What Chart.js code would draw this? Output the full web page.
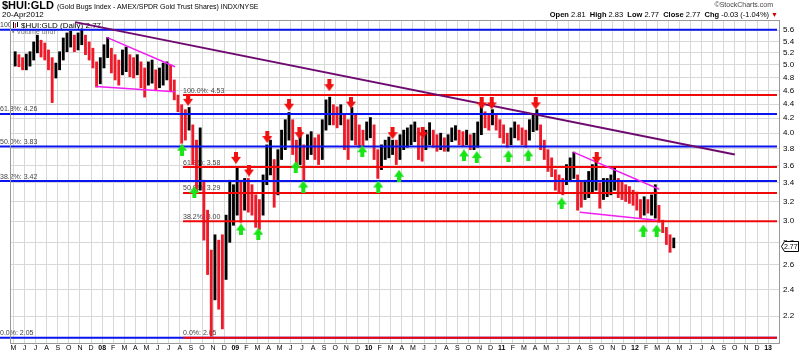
<!DOCTYPE html>
<html>
<head>
<meta charset="utf-8">
<script src="https://cdn.jsdelivr.net/npm/chart.js@4.4.1/dist/chart.umd.min.js"></script>
<style>
body { margin: 0; background: #fff; font-family: "Liberation Sans", Arial, sans-serif; }
#wrap { position: relative; width: 800px; height: 353px; }
#chart { position: absolute; left: 0; top: 0; }
.t { position: absolute; white-space: nowrap; color: #000; }
</style>
</head>
<body>
<div id="wrap">
<canvas id="chart" width="800" height="353"></canvas>
<div class="t" style="left:2px;top:-1px;font-size:11px"><b>$HUI:GLD</b> <span style="font-size:7px">(Gold Bugs Index - AMEX/SPDR Gold Trust Shares) INDX/NYSE</span></div>
<div class="t" style="left:2px;top:10px;font-size:8px">20-Apr2012</div>
<div class="t" style="right:27px;top:1px;font-size:7px;color:#444">©StockCharts.com</div>
<div class="t" style="right:22px;top:10px;font-size:7.5px"><b>Open</b> 2.81 &nbsp;<b>High</b> 2.83 &nbsp;<b>Low</b> 2.77 &nbsp;<b>Close</b> 2.77 &nbsp;<b>Chg</b> -0.03 (-1.04%)<span style="color:#c00;font-size:7px"> ▼</span></div>
</div>
<script>
const monthLabels = ['M', 'J', 'J', 'A', 'S', 'O', 'N', 'D',
    '08', 'F', 'M', 'A', 'M', 'J', 'J', 'A', 'S', 'O', 'N', 'D',
    '09', 'F', 'M', 'A', 'M', 'J', 'J', 'A', 'S', 'O', 'N', 'D',
    '10', 'F', 'M', 'A', 'M', 'J', 'J', 'A', 'S', 'O', 'N', 'D',
    '11', 'F', 'M', 'A', 'M', 'J', 'J', 'A', 'S', 'O', 'N', 'D',
    '12', 'F', 'M', 'A', 'M', 'J', 'J', 'A', 'S', 'O', 'N', 'D', '13'];

const yTicks = [2.2, 2.4, 2.6, 2.8, 3.0, 3.2, 3.4, 3.6, 3.8, 4.0, 4.2, 4.4, 4.6, 4.8, 5.0, 5.2, 5.4, 5.6];

// price ranges, three bars per month starting May 2007
const barLows = [
    4.98, 4.97, 4.92, 4.92, 4.98, 5.08, 5.20, 5.13, 5.08, 4.92,
    4.42, 4.79, 4.92, 5.08, 5.22, 5.30, 5.22, 5.25, 5.34, 5.17,
    5.08, 4.95, 4.65, 4.70, 4.95, 5.12, 4.87, 4.76, 4.68, 4.84,
    4.89, 4.81, 4.79, 4.84, 4.64, 4.50, 4.68, 4.71, 4.61, 4.64,
    4.68, 4.76, 4.58, 4.46, 4.29, 3.87, 3.91, 4.04, 3.61, 3.30,
    3.32, 2.82, 2.52, 2.06, 2.32, 2.25, 2.11, 2.48, 2.80, 2.96,
    3.06, 2.99, 3.11, 3.09, 3.06, 2.94, 2.92, 3.06, 3.38, 3.49,
    3.14, 3.27, 3.67, 3.79, 3.91, 3.73, 3.57, 3.61, 3.43, 3.67,
    3.73, 3.67, 3.61, 3.67, 4.04, 4.11, 4.11, 4.07, 4.11, 3.79,
    3.67, 3.91, 3.85, 3.82, 3.83, 3.91, 3.94, 3.67, 3.45, 3.55,
    3.67, 3.69, 3.73, 3.61, 3.67, 3.79, 3.82, 3.85, 3.89, 3.67,
    3.65, 3.79, 3.85, 3.82, 3.77, 3.79, 3.77, 3.77, 3.89, 3.91,
    3.85, 3.83, 3.85, 3.79, 3.79, 3.82, 3.98, 4.07, 4.04, 4.11,
    4.04, 3.94, 3.87, 3.82, 3.85, 3.94, 3.91, 3.85, 3.82, 3.91,
    4.02, 4.04, 3.79, 3.67, 3.53, 3.47, 3.32, 3.30, 3.27, 3.38,
    3.43, 3.45, 3.11, 3.14, 3.22, 3.24, 3.30, 3.32, 3.13, 3.22,
    3.25, 3.27, 3.32, 3.24, 3.22, 3.20, 3.18, 3.16, 3.11, 3.03,
    3.06, 3.08, 3.06, 3.03, 2.99, 2.89, 2.78, 2.71, 2.75
];
const barHighs = [
    5.22, 5.17, 5.12, 5.18, 5.22, 5.39, 5.51, 5.42, 5.37, 5.25,
    5.12, 5.03, 5.22, 5.46, 5.55, 5.58, 5.51, 5.55, 5.62, 5.51,
    5.39, 5.28, 5.05, 5.12, 5.34, 5.47, 5.28, 5.17, 5.08, 5.25,
    5.30, 5.17, 5.12, 5.17, 5.05, 4.95, 5.05, 5.08, 4.92, 4.95,
    5.03, 5.05, 5.00, 4.76, 4.53, 4.39, 4.32, 4.35, 4.11, 3.91,
    4.07, 3.43, 3.11, 2.73, 2.87, 2.82, 2.87, 3.06, 3.43, 3.38,
    3.57, 3.43, 3.45, 3.45, 3.38, 3.27, 3.22, 3.49, 3.85, 3.91,
    3.67, 3.79, 4.04, 4.18, 4.28, 4.18, 3.91, 4.04, 3.85, 3.98,
    4.02, 3.94, 3.98, 4.18, 4.46, 4.50, 4.39, 4.36, 4.39, 4.25,
    4.18, 4.35, 4.25, 4.11, 4.04, 4.15, 4.21, 4.11, 3.79, 3.85,
    3.91, 3.95, 3.91, 3.91, 3.98, 4.04, 4.07, 4.11, 4.15, 4.07,
    3.94, 4.04, 4.14, 4.04, 3.98, 4.00, 3.94, 3.98, 4.07, 4.10,
    4.04, 4.02, 4.04, 3.98, 4.00, 4.15, 4.42, 4.29, 4.25, 4.32,
    4.25, 4.18, 4.11, 4.00, 4.07, 4.15, 4.11, 4.07, 4.04, 4.18,
    4.25, 4.32, 4.11, 3.91, 3.79, 3.69, 3.55, 3.49, 3.45, 3.61,
    3.69, 3.76, 3.49, 3.41, 3.43, 3.53, 3.61, 3.67, 3.40, 3.45,
    3.45, 3.49, 3.57, 3.45, 3.41, 3.38, 3.36, 3.32, 3.30, 3.22,
    3.25, 3.22, 3.27, 3.38, 3.16, 3.01, 2.94, 2.87, 2.84
];
const lastClose = 2.77;

const fibPercents = ['100.0%', '61.8%', '50.0%', '38.2%', '0.0%'];
const fibLevelsA = [5.61, 4.26, 3.83, 3.42, 2.05];
const fibLevelsB = [4.53, 3.58, 3.29, 3.00, 2.05];
const fibStartA = -1.2;
const fibStartB = 15.29;
const fibEnd = 68.8;

const trendLine = [{ x: 5.56, y: 5.75 }, { x: 65.0, y: 3.73 }];
const wedge1Upper = [{ x: 8.41, y: 5.47 }, { x: 14.57, y: 4.97 }];
const wedge1Lower = [{ x: 7.45, y: 4.66 }, { x: 14.57, y: 4.58 }];
const wedge2Upper = [{ x: 50.45, y: 3.76 }, { x: 58.2, y: 3.33 }];
const wedge2Lower = [{ x: 51.05, y: 3.09 }, { x: 57.96, y: 3.01 }];

const redArrows = [
    { x: 15.74, y: 4.46 }, { x: 20.06, y: 3.69 }, { x: 21.23, y: 3.54 }, { x: 22.88, y: 3.95 },
    { x: 24.84, y: 4.39 }, { x: 25.77, y: 4.00 }, { x: 28.47, y: 4.68 }, { x: 30.42, y: 4.42 },
    { x: 34.16, y: 4.00 }, { x: 36.88, y: 4.00 }, { x: 42.2, y: 4.41 }, { x: 43.1, y: 4.41 },
    { x: 47.06, y: 4.41 }, { x: 52.56, y: 3.69 }
];
const greenArrows = [
    { x: 15.2, y: 3.79 }, { x: 16.31, y: 3.30 }, { x: 20.51, y: 2.92 }, { x: 22.07, y: 2.88 },
    { x: 25.44, y: 3.58 }, { x: 26.13, y: 3.36 }, { x: 31.44, y: 3.77 }, { x: 32.88, y: 3.36 },
    { x: 34.75, y: 3.48 }, { x: 40.6, y: 3.72 }, { x: 41.75, y: 3.70 }, { x: 44.6, y: 3.71 },
    { x: 46.4, y: 3.72 }, { x: 49.4, y: 3.18 }, { x: 56.76, y: 2.91 }, { x: 57.96, y: 2.91 }
];

const FONT = '"Liberation Sans", Arial, sans-serif';

function makeArrow(color, down) {
    const c = document.createElement('canvas');
    c.width = 10;
    c.height = 12;
    const g = c.getContext('2d');
    g.fillStyle = color;
    g.beginPath();
    if (down) {
        g.moveTo(3, 0); g.lineTo(7, 0); g.lineTo(7, 5); g.lineTo(10, 5);
        g.lineTo(5, 12); g.lineTo(0, 5); g.lineTo(3, 5);
    } else {
        g.moveTo(5, 0); g.lineTo(10, 7); g.lineTo(7, 7); g.lineTo(7, 12);
        g.lineTo(3, 12); g.lineTo(3, 7); g.lineTo(0, 7);
    }
    g.closePath();
    g.fill();
    return c;
}

function lineSet(points, color, width, order, clip) {
    return {
        type: 'line',
        data: points,
        borderColor: color,
        borderWidth: width,
        pointRadius: 0,
        fill: false,
        order: order,
        clip: clip
    };
}

const barColors = barLows.map((lo, i) => {
    if (i === 0) return '#000';
    return (lo + barHighs[i]) < (barLows[i - 1] + barHighs[i - 1]) ? '#ee1a2a' : '#000';
});

const datasets = [{
    type: 'bar',
    data: barLows.map((lo, i) => ({ x: (i + 0.5) / 3, y: [lo, barHighs[i]] })),
    backgroundColor: barColors,
    barThickness: 2.2,
    grouped: false,
    order: 10
}];

fibLevelsA.forEach(v => {
    datasets.push(lineSet([{ x: fibStartA, y: v }, { x: fibEnd, y: v }], '#0a14f0', 2, 6, false));
});
fibLevelsB.forEach(v => {
    datasets.push(lineSet([{ x: fibStartB, y: v }, { x: fibEnd, y: v }], '#f00808', 2, 5, false));
});
datasets.push(lineSet(trendLine, '#6e0a6e', 2, 4, true));
[wedge1Upper, wedge1Lower, wedge2Upper, wedge2Lower].forEach(w => {
    datasets.push(lineSet(w, '#f01ef0', 1.5, 4, true));
});
datasets.push({
    type: 'scatter',
    data: redArrows,
    pointStyle: makeArrow('#f01010', true),
    order: 1
});
datasets.push({
    type: 'scatter',
    data: greenArrows,
    pointStyle: makeArrow('#18e418', false),
    order: 1
});

const decorations = {
    id: 'decorations',
    beforeDatasetsDraw(chart) {
        const { ctx, scales } = chart;
        ctx.save();
        ctx.font = '7px ' + FONT;
        ctx.fillStyle = '#444';
        ctx.textBaseline = 'bottom';
        fibLevelsA.forEach((v, i) => {
            ctx.fillText(fibPercents[i] + ': ' + v.toFixed(2), 0, scales.y.getPixelForValue(v) - 1);
        });
        fibLevelsB.forEach((v, i) => {
            ctx.fillText(fibPercents[i] + ': ' + v.toFixed(2), scales.x.getPixelForValue(fibStartB), scales.y.getPixelForValue(v) - 1);
        });

        // legend box
        ctx.fillStyle = '#fff';
        ctx.fillRect(11, 21, 91, 8);
        ctx.strokeStyle = '#bbb';
        ctx.lineWidth = 1;
        ctx.strokeRect(10.5, 20.5, 92, 9);
        ctx.fillStyle = '#000';
        ctx.fillRect(13, 22, 1, 6);
        ctx.fillStyle = '#ee1a2a';
        ctx.fillRect(15, 23, 1, 5);
        ctx.fillStyle = '#000';
        ctx.fillRect(17, 22, 1, 5);
        ctx.font = '8px ' + FONT;
        ctx.textBaseline = 'middle';
        ctx.fillText('$HUI:GLD (Daily) 2.77', 21, 25.5);
        ctx.fillStyle = '#777';
        ctx.font = '7px ' + FONT;
        ctx.fillText('▪ Volume undr', 12, 32);
        ctx.restore();
    },
    afterDraw(chart) {
        const { ctx, chartArea, scales } = chart;
        ctx.save();
        ctx.strokeStyle = '#999';
        ctx.lineWidth = 1;
        ctx.strokeRect(chartArea.left + 0.5, chartArea.top + 0.5, chartArea.right - chartArea.left - 1, chartArea.bottom - chartArea.top);

        // last price tag
        const y = Math.round(scales.y.getPixelForValue(lastClose)) + 0.5;
        const x0 = chartArea.right + 1.5;
        ctx.beginPath();
        ctx.moveTo(x0, y);
        ctx.lineTo(x0 + 3, y - 5);
        ctx.lineTo(798.5, y - 5);
        ctx.lineTo(798.5, y + 5);
        ctx.lineTo(x0 + 3, y + 5);
        ctx.closePath();
        ctx.fillStyle = '#fff';
        ctx.fill();
        ctx.strokeStyle = '#000';
        ctx.stroke();
        ctx.fillStyle = '#000';
        ctx.font = '7px ' + FONT;
        ctx.textBaseline = 'middle';
        ctx.fillText(lastClose.toFixed(2), x0 + 2.5, y + 0.5);
        ctx.restore();
    }
};

new Chart(document.getElementById('chart').getContext('2d'), {
    type: 'bar',
    data: { datasets: datasets },
    options: {
        responsive: false,
        animation: false,
        devicePixelRatio: 1,
        layout: { padding: { left: 10, top: 20, right: 0, bottom: 0 } },
        plugins: { legend: { display: false }, tooltip: { enabled: false } },
        scales: {
            x: {
                type: 'linear',
                min: -0.3,
                max: 69.07,
                offset: false,
                afterBuildTicks: s => { s.ticks = monthLabels.map((l, i) => ({ value: i })); },
                afterFit: s => { s.height = 10; },
                grid: { color: '#d8d8d8', offset: false, drawTicks: false },
                border: { display: false },
                ticks: {
                    padding: 1,
                    autoSkip: false,
                    maxRotation: 0,
                    color: '#000',
                    font: c => ({
                        size: 7,
                        family: FONT,
                        weight: (c.tick && /\d/.test(monthLabels[c.tick.value])) ? 'bold' : 'normal'
                    }),
                    callback: v => monthLabels[v]
                }
            },
            y: {
                type: 'logarithmic',
                position: 'right',
                min: 2.015,
                max: 5.79,
                afterBuildTicks: s => { s.ticks = yTicks.map(v => ({ value: v })); },
                afterFit: s => { s.width = 20; },
                grid: { color: '#d8d8d8', drawTicks: false },
                border: { display: false },
                ticks: {
                    padding: 3,
                    color: '#000',
                    font: { size: 8, family: FONT },
                    callback: v => v.toFixed(1)
                }
            }
        }
    },
    plugins: [decorations]
});
</script>
</body>
</html>
